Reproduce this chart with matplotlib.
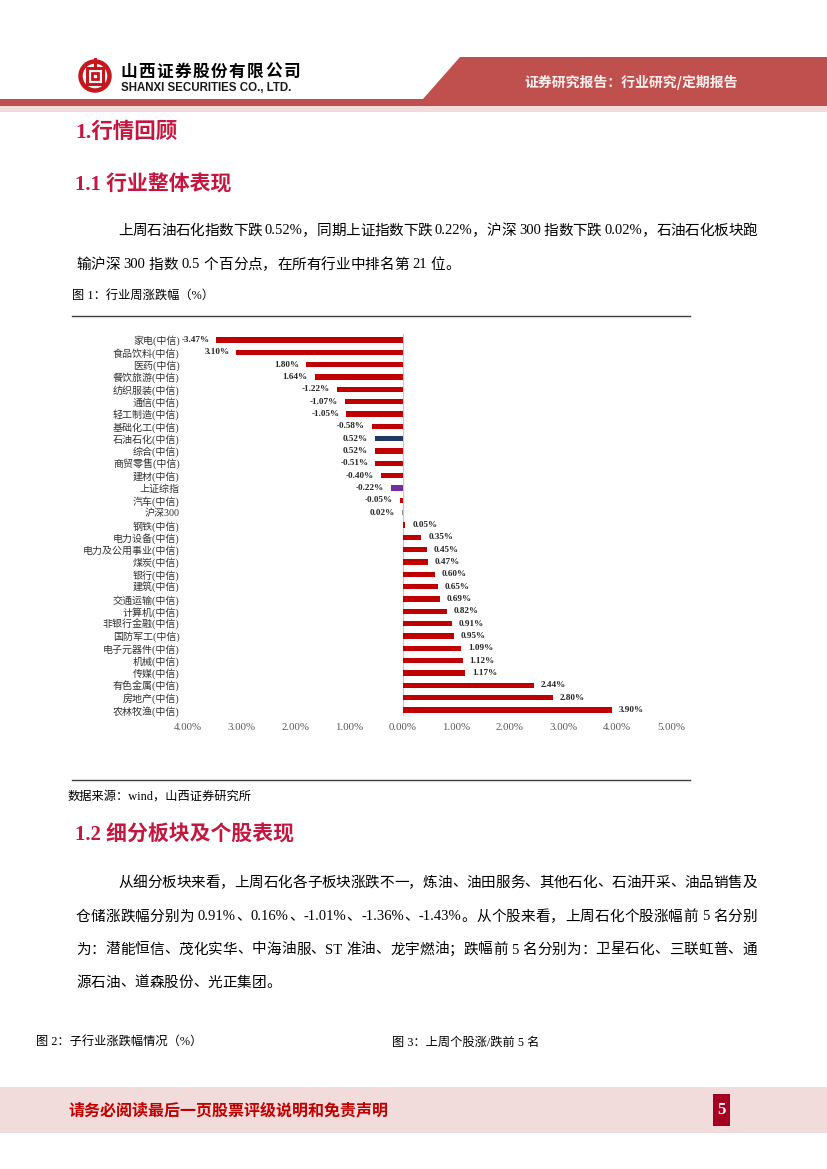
import re
import matplotlib
matplotlib.use('Agg')
import matplotlib.pyplot as plt
from matplotlib.patches import Rectangle, Polygon, Circle

plt.rcParams['font.family'] = ['Liberation Serif', 'Noto Sans CJK SC']

# ---- chart data (图1：行业周涨跌幅) ----
industries = ['家电(中信)', '食品饮料(中信)', '医药(中信)', '餐饮旅游(中信)', '纺织服装(中信)',
              '通信(中信)', '轻工制造(中信)', '基础化工(中信)', '石油石化(中信)', '综合(中信)',
              '商贸零售(中信)', '建材(中信)', '上证综指', '汽车(中信)', '沪深300', '钢铁(中信)',
              '电力设备(中信)', '电力及公用事业(中信)', '煤炭(中信)', '银行(中信)', '建筑(中信)',
              '交通运输(中信)', '计算机(中信)', '非银行金融(中信)', '国防军工(中信)',
              '电子元器件(中信)', '机械(中信)', '传媒(中信)', '有色金属(中信)', '房地产(中信)',
              '农林牧渔(中信)']
weekly_change = [-3.47, -3.10, -1.80, -1.64, -1.22, -1.07, -1.05, -0.58, -0.52, -0.52,
                 -0.51, -0.40, -0.22, -0.05, -0.02, 0.05, 0.35, 0.45, 0.47, 0.60, 0.65,
                 0.69, 0.82, 0.91, 0.95, 1.09, 1.12, 1.17, 2.44, 2.80, 3.90]
bar_labels = ['-3.47%', '3.10%', '1.80%', '1.64%', '-1.22%', '-1.07%', '-1.05%', '-0.58%',
              '0.52%', '0.52%', '-0.51%', '-0.40%', '-0.22%', '-0.05%', '0.02%', '0.05%',
              '0.35%', '0.45%', '0.47%', '0.60%', '0.65%', '0.69%', '0.82%', '0.91%',
              '0.95%', '1.09%', '1.12%', '1.17%', '2.44%', '2.80%', '3.90%']
x_ticks = [-4, -3, -2, -1, 0, 1, 2, 3, 4, 5]
x_tick_labels = ['4.00%', '3.00%', '2.00%', '1.00%', '0.00%', '1.00%', '2.00%', '3.00%',
                 '4.00%', '5.00%']
highlight = {'石油石化(中信)': '#1F3864', '上证综指': '#7030A0', '沪深300': '#8C8C8C'}

# ---- page text ----
para1 = ['上周石油石化指数下跌 0.52%，同期上证指数下跌 0.22%，沪深 300 指数下跌 0.02%，石油石化板块跑',
         '输沪深 300 指数 0.5 个百分点，在所有行业中排名第 21 位。']
para2 = ['从细分板块来看，上周石化各子板块涨跌不一，炼油、油田服务、其他石化、石油开采、油品销售及',
         '仓储涨跌幅分别为 0.91%、0.16%、-1.01%、-1.36%、-1.43%。从个股来看，上周石化个股涨幅前 5 名分别',
         '为：潜能恒信、茂化实华、中海油服、ST 准油、龙宇燃油；跌幅前 5 名分别为：卫星石化、三联虹普、通',
         '源石油、道森股份、光正集团。']

RED = '#C0504D'
HEAD = '#C3173F'

fig = plt.figure(figsize=(8.27, 11.69), dpi=100)
bg = fig.add_axes([0, 0, 1, 1], zorder=0)
bg.set_xlim(0, 827)
bg.set_ylim(1169, 0)
bg.axis('off')
renderer = fig.canvas.get_renderer()


def draw_line(x, y, s, width=None, size=10.5, per_char=False, **kw):
    # one text per token so the line can be stretched to a fixed width
    tokens = list(s) if per_char else re.findall(r'[A-Za-z0-9.%\-]+|.', s)
    texts = [bg.text(0, y, t, fontsize=size, va='center', **kw) for t in tokens]
    ws = [t.get_window_extent(renderer).width for t in texts]
    gap = 0 if width is None else (width - sum(ws)) / (len(tokens) - 1)
    pos = x
    for t, w in zip(texts, ws):
        t.set_x(pos)
        pos += w + gap


# header
bg.add_patch(Polygon([(460, 57), (827, 57), (827, 99), (423, 99)], color=RED, lw=0))
bg.add_patch(Rectangle((0, 99), 827, 6.5, color=RED, lw=0))
bg.add_patch(Rectangle((0, 105.5), 827, 6, color='#F2DCDB', lw=0))
bg.text(524, 82, '证券研究报告：行业研究/定期报告', fontsize=10, fontweight='bold',
        color='#FBF0F0', va='center', family='Noto Sans CJK SC')

# logo
bg.add_patch(Circle((95, 76), 14.5, fill=False, ec='#C8161D', lw=3.2))
bg.add_patch(Rectangle((87, 68), 16, 16, fill=False, ec='#C8161D', lw=2.2))
bg.add_patch(Rectangle((92, 73), 6, 6, fill=False, ec='#C8161D', lw=2))
bg.plot([95, 95], [59, 66], color='#C8161D', lw=2.2)
draw_line(120, 71.5, '山西证券股份有限公司', width=180, size=12, fontweight='bold',
          family='Noto Sans CJK SC')
bg.text(121, 88, 'SHANXI SECURITIES CO., LTD.', fontsize=8.3, fontweight='bold',
        family='Liberation Sans', va='center', color='#1A1A1A')

# headings and paragraph 1
bg.text(75, 133, '1.行情回顾', fontsize=15.5, fontweight='bold', color=HEAD, va='center')
bg.text(75, 185, '1.1 行业整体表现', fontsize=15, fontweight='bold', color=HEAD, va='center')
draw_line(118, 231, para1[0], width=639)
draw_line(76, 265, para1[1])

bg.text(72, 297, '图 1：行业周涨跌幅（%）', fontsize=8.8, va='center')
bg.plot([72, 690], [316, 316], color='#404040', lw=1)
bg.plot([72, 690], [780, 780], color='#404040', lw=1)
bg.text(68, 797, '数据来源：wind，山西证券研究所', fontsize=8.8, va='center')

bg.text(75, 835, '1.2 细分板块及个股表现', fontsize=15, fontweight='bold', color=HEAD, va='center')
draw_line(118, 883, para2[0], width=639)
draw_line(76, 917, para2[1], width=681)
draw_line(76, 950, para2[2], width=681)
draw_line(76, 983, para2[3])

bg.text(36, 1043, '图 2：子行业涨跌幅情况（%）', fontsize=8.8, va='center')
bg.text(392, 1043, '图 3：上周个股涨/跌前 5 名', fontsize=8.8, va='center')

# footer
bg.add_patch(Rectangle((0, 1087), 827, 46, color='#F2DCDB', lw=0))
bg.text(68, 1110, '请务必阅读最后一页股票评级说明和免责声明', fontsize=11.5, fontweight='bold',
        color='#C00000', va='center', family='Noto Sans CJK SC')
bg.add_patch(Rectangle((713, 1094), 17, 32, color='#A50021', lw=0))
bg.text(721.5, 1110, '5', fontsize=12, fontweight='bold', color='white', ha='center', va='center')

# bar chart
ax = fig.add_axes([188 / 827, 1 - 716.2 / 1169, 483 / 827, 382.4 / 1169], zorder=1)
ax.patch.set_alpha(0)
ypos = list(range(len(industries)))
colors = [highlight.get(name, '#C00000') for name in industries]
ax.barh(ypos, weekly_change, height=0.42, color=colors)
ax.axvline(0, color='#C8C8C8', lw=0.8, zorder=0)
for yv, v, lab in zip(ypos, weekly_change, bar_labels):
    ax.annotate(lab, (v, yv), xytext=(-5 if v < 0 else 5, 0), textcoords='offset points',
                ha='right' if v < 0 else 'left', va='center', fontsize=6.6,
                fontweight='bold', color='#262626')
ax.set_xlim(-4, 5)
ax.set_ylim(len(industries) - 0.5, -0.5)
ax.set_xticks(x_ticks, x_tick_labels, fontsize=7.8, color='#595959')
ax.set_yticks(ypos, industries, fontsize=7.2, color='#333333')
ax.tick_params(length=0)
ax.tick_params(axis='y', pad=6)
ax.tick_params(axis='x', pad=5)
for sp in ax.spines.values():
    sp.set_visible(False)

fig.savefig('out.png', dpi=100)
